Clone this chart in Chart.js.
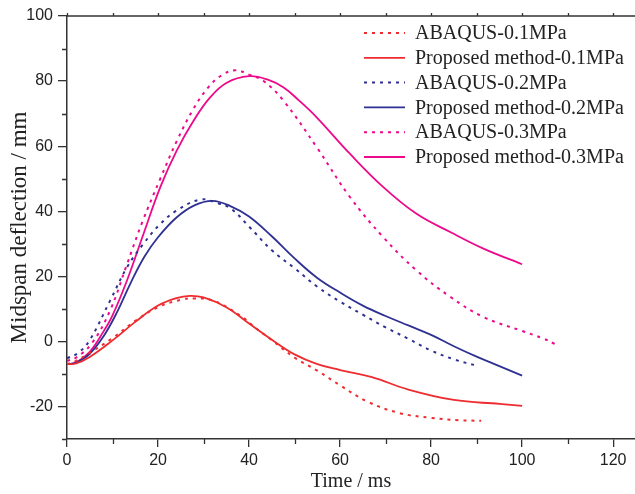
<!DOCTYPE html>
<html><head><meta charset="utf-8">
<script src="https://cdn.jsdelivr.net/npm/chart.js@4/dist/chart.umd.min.js"></script>
<style>html,body{margin:0;padding:0;background:#fff}#wrap{width:635px;height:494px;position:relative}</style>
</head><body><div id="wrap"><canvas id="c" width="635" height="494"></canvas></div>
<script>
// ---- data (time in ms, midspan deflection in mm) ----
const seriesNames = ['ABAQUS-0.1MPa','Proposed method-0.1MPa','ABAQUS-0.2MPa','Proposed method-0.2MPa','ABAQUS-0.3MPa','Proposed method-0.3MPa'];

const abaqus01T = [0, 2, 5, 10, 15, 20, 25, 28, 32, 38, 42, 45, 50, 55, 60, 66, 73, 80, 86, 91];
const abaqus01Y = [-7, -6, -3.5, 1.0, 6.3, 10.5, 12.8, 13.2, 12.6, 8.0, 3.5, 0.4, -5, -9, -13.5, -18.5, -22, -23.5, -24.2, -24.4];

const proposed01T = [0, 2, 5, 10, 15, 20, 24, 27, 30, 35, 40, 45, 50, 55, 60, 67, 75, 85, 95, 100];
const proposed01Y = [-7, -6.8, -4.8, 0.3, 6, 11, 13.3, 14, 13.5, 10.5, 5.5, 0.5, -4, -7, -8.8, -11, -14.8, -18, -19.2, -19.8];

const abaqus02T = [0, 2.5, 5, 9.5, 13.2, 16.8, 20.5, 24.1, 29.3, 33, 36, 40, 45, 50, 55, 60, 65, 70, 75, 80, 85, 90.4];
const abaqus02Y = [-5.2, -3.5, 0.4, 12.6, 22.8, 30, 36.1, 40.2, 43.6, 42.5, 40.8, 35.3, 28, 22.5, 16.8, 12.2, 8.2, 4.3, 0.8, -2.8, -5.5, -7.6];

const proposed02T = [0, 2, 5, 8, 11, 14, 17, 20, 24, 28, 32, 36, 40, 45, 50, 55, 60, 65, 70, 75, 80, 85, 90, 95, 100];
const proposed02Y = [-7, -6.5, -3.8, 1.5, 9, 18, 26, 32, 38, 41.8, 43.2, 41.5, 38.4, 32.3, 25.5, 19.5, 15, 11, 7.8, 4.9, 2.0, -1.5, -4.7, -7.6, -10.5];

const abaqus03T = [0, 2, 5.5, 9.5, 13, 16.5, 20.5, 24.1, 27.8, 31, 34, 37, 40, 43.2, 47.6, 54.9, 62.2, 69.5, 76.8, 84.2, 91.5, 100, 104.6, 107.2];
const abaqus03Y = [-6, -5, -0.5, 9.6, 23, 36.5, 50, 61.5, 71.5, 78, 81.8, 83.3, 82, 80, 73.9, 59.6, 44.3, 32, 21.8, 13.7, 7.5, 3.2, 0.9, -0.8];

const proposed03T = [0, 2, 5, 8, 10, 13.2, 16.8, 20.5, 24.1, 27.8, 31.4, 35.1, 40, 44, 47.6, 51, 54.9, 62.2, 69.5, 76.8, 84.2, 91.5, 100];
const proposed03Y = [-7, -6.5, -3.2, 3, 8, 18.8, 33, 47.4, 58.6, 67.8, 74.9, 79.5, 81.5, 80.5, 78, 74, 68.8, 57.6, 47.4, 39.2, 33.6, 28.5, 23.7];

const xTickValues = [0, 20, 40, 60, 80, 100, 120];
const yTickValues = [-20, 0, 20, 40, 60, 80, 100];
const xMinorValues = [10, 30, 50, 70, 90, 110];
const yMinorValues = [-30, -10, 10, 30, 50, 70, 90];

// ---- styles ----
const RED = '#EE2B2E', BLUE = '#2E3192', MAG = '#EC0A8C';
const DOT = [3, 5];

function pts(t, y) { return t.map((v, i) => ({x: v, y: y[i]})); }

const seriesData = [
  [abaqus01T, abaqus01Y, RED, DOT],
  [proposed01T, proposed01Y, RED, []],
  [abaqus02T, abaqus02Y, BLUE, DOT],
  [proposed02T, proposed02Y, BLUE, []],
  [abaqus03T, abaqus03Y, MAG, DOT],
  [proposed03T, proposed03Y, MAG, []],
];

const datasets = seriesData.map((s, i) => ({
  label: seriesNames[i],
  data: pts(s[0], s[1]),
  borderColor: s[2],
  borderDash: s[3],
  borderWidth: s[3].length ? 2 : 1.8,
  pointRadius: 0,
  fill: false,
  tension: 0.4,
}));

const axisDecor = {
  id: 'axisDecor',
  afterDraw(chart) {
    const {ctx, chartArea: a, scales: {x, y}} = chart;
    ctx.save();
    ctx.strokeStyle = '#333';
    ctx.lineWidth = 1.3;
    ctx.beginPath();
    ctx.moveTo(a.left, a.top); ctx.lineTo(a.right, a.top);
    xMinorValues.forEach(v => { const p = Math.round(x.getPixelForValue(v)) + 0.5; ctx.moveTo(p, a.bottom); ctx.lineTo(p, a.bottom + 5); });
    yMinorValues.forEach(v => { const p = Math.round(y.getPixelForValue(v)) + 0.5; ctx.moveTo(a.left, p); ctx.lineTo(a.left - 5, p); });
    xMinorValues.concat(xTickValues).forEach(v => { const p = Math.round(x.getPixelForValue(v)) + 0.5; ctx.moveTo(p, a.top); ctx.lineTo(p, a.top - 3); });
    ctx.stroke();
    // legend
    const lx0 = 364, lx1 = 405, tx = 415, ly0 = 33, dy = 24.8;
    ctx.font = '20px "Liberation Serif", "Times New Roman", serif';
    ctx.textBaseline = 'middle';
    ctx.textAlign = 'left';
    chart.data.datasets.forEach((d, i) => {
      const yy = ly0 + i * dy;
      ctx.strokeStyle = d.borderColor;
      ctx.lineWidth = d.borderWidth;
      ctx.setLineDash(d.borderDash);
      ctx.beginPath(); ctx.moveTo(lx0, yy); ctx.lineTo(lx1, yy); ctx.stroke();
      ctx.setLineDash([]);
      ctx.fillStyle = '#222';
      ctx.fillText(d.label, tx, yy + 1);
    });
    ctx.restore();
  }
};

new Chart(document.getElementById('c'), {
  type: 'line',
  data: { datasets },
  options: {
    responsive: false,
    animation: false,
    devicePixelRatio: 1,
    layout: { padding: { top: 16, left: 0, right: 0, bottom: 0 } },
    plugins: { legend: { display: false }, tooltip: { enabled: false } },
    scales: {
      x: {
        type: 'linear', min: 0, max: 124.8,
        afterBuildTicks: s => { s.ticks = xTickValues.map(v => ({value: v})); },
        afterFit: s => { s.height = 55; },
        ticks: { color: '#222', font: { family: '"Liberation Sans", Arial, sans-serif', size: 16 }, padding: 4, maxRotation: 0 },
        grid: { display: true, drawOnChartArea: false, drawTicks: true, tickLength: 8, color: '#333', lineWidth: 1.3 },
        border: { display: true, color: '#333', width: 1.5 },
        title: { display: true, text: 'Time / ms', color: '#222', font: { family: '"Liberation Serif", "Times New Roman", serif', size: 20 }, padding: { top: 0, bottom: 0 } }
      },
      y: {
        type: 'linear', min: -30, max: 100,
        afterBuildTicks: s => { s.ticks = yTickValues.map(v => ({value: v})); },
        afterFit: s => { s.width = 67; },
        ticks: { color: '#222', font: { family: '"Liberation Sans", Arial, sans-serif', size: 16 }, padding: 5 },
        grid: { display: true, drawOnChartArea: false, drawTicks: true, tickLength: 9, color: '#333', lineWidth: 1.3 },
        border: { display: true, color: '#333', width: 1.5 },
        title: { display: true, text: 'Midspan deflection / mm', color: '#222', font: { family: '"Liberation Serif", "Times New Roman", serif', size: 23 }, padding: { top: 6, bottom: 0 } }
      }
    }
  },
  plugins: [axisDecor]
});
</script></body></html>
